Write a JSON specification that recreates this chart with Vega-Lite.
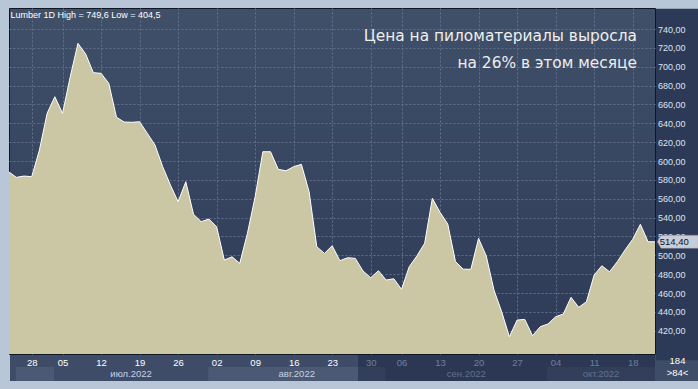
{
  "$schema": "https://vega.github.io/schema/vega-lite/v6.json",
  "width": 646,
  "height": 346,
  "autosize": {"type": "none"},
  "padding": {"left": 9, "top": 8, "right": 43, "bottom": 35},
  "background": "#b9c6d8",
  "title": {
    "text": ["Цена на пиломатериалы выросла", "на 26% в этом месяце"],
    "anchor": "end",
    "frame": "group",
    "orient": "top",
    "offset": -63,
    "dx": -18,
    "baseline": "top",
    "font": "DejaVu Sans",
    "fontSize": 15.4,
    "fontWeight": "normal",
    "color": "#eeeeee",
    "lineHeight": 27
  },
  "config": {
    "font": "Liberation Sans",
    "locale": {"number": {"decimal": ",", "thousands": " ", "grouping": [3], "currency": ["", ""]}},
    "view": {
      "fill": {"gradient": "linear", "x1": 0, "y1": 0, "x2": 0, "y2": 1, "stops": [{"offset": 0, "color": "#405069"}, {"offset": 1, "color": "#2e3a57"}]},
      "stroke": "#0f1624",
      "strokeWidth": 1
    }
  },
  "datasets": {
    "lumber": [
      {"i": -3, "v": 588.7}, {"i": -2, "v": 582.7}, {"i": -1, "v": 584.1}, {"i": 0, "v": 583.4},
      {"i": 1, "v": 611.7}, {"i": 2, "v": 650.6}, {"i": 3, "v": 668.2}, {"i": 4, "v": 650.6},
      {"i": 5, "v": 689.4}, {"i": 6, "v": 724.8}, {"i": 7, "v": 713.5}, {"i": 8, "v": 693.7},
      {"i": 9, "v": 693.0}, {"i": 10, "v": 682.4}, {"i": 11, "v": 646.4}, {"i": 12, "v": 641.4},
      {"i": 13, "v": 641.1}, {"i": 14, "v": 641.7}, {"i": 15, "v": 629.4}, {"i": 16, "v": 617.0},
      {"i": 17, "v": 594.0}, {"i": 18, "v": 574.6}, {"i": 19, "v": 556.9}, {"i": 20, "v": 578.1},
      {"i": 21, "v": 543.5}, {"i": 22, "v": 535.7}, {"i": 23, "v": 538.5}, {"i": 24, "v": 530.3},
      {"i": 25, "v": 495.0}, {"i": 26, "v": 498.5}, {"i": 27, "v": 491.5}, {"i": 28, "v": 523.4},
      {"i": 29, "v": 562.2}, {"i": 30, "v": 609.9}, {"i": 31, "v": 609.9}, {"i": 32, "v": 591.2},
      {"i": 33, "v": 589.7}, {"i": 34, "v": 594.0}, {"i": 35, "v": 596.5}, {"i": 36, "v": 567.5},
      {"i": 37, "v": 509.1}, {"i": 38, "v": 502.1}, {"i": 39, "v": 510.2}, {"i": 40, "v": 494.3},
      {"i": 41, "v": 497.5}, {"i": 42, "v": 496.8}, {"i": 43, "v": 483.4}, {"i": 44, "v": 476.3},
      {"i": 45, "v": 483.7}, {"i": 46, "v": 473.8}, {"i": 47, "v": 475.2}, {"i": 48, "v": 464.0},
      {"i": 49, "v": 488.0}, {"i": 50, "v": 499.5}, {"i": 51, "v": 512.8}, {"i": 52, "v": 560.5},
      {"i": 53, "v": 545.6}, {"i": 54, "v": 533.2}, {"i": 55, "v": 493.5}, {"i": 56, "v": 485.4},
      {"i": 57, "v": 485.2}, {"i": 58, "v": 518.0}, {"i": 59, "v": 499.3}, {"i": 60, "v": 463.2},
      {"i": 61, "v": 440.2}, {"i": 62, "v": 413.7}, {"i": 63, "v": 431.4}, {"i": 64, "v": 432.1},
      {"i": 65, "v": 414.8}, {"i": 66, "v": 424.3}, {"i": 67, "v": 427.2}, {"i": 68, "v": 434.9},
      {"i": 69, "v": 437.8}, {"i": 70, "v": 455.5}, {"i": 71, "v": 444.9}, {"i": 72, "v": 450.8},
      {"i": 73, "v": 479.1}, {"i": 74, "v": 489.0}, {"i": 75, "v": 482.6}, {"i": 76, "v": 493.2},
      {"i": 77, "v": 505.6}, {"i": 78, "v": 517.0}, {"i": 79, "v": 532.9}, {"i": 80, "v": 514.4},
      {"i": 81, "v": 514.4}
    ],
    "months": [
      {"n": 6, "label": "", "start": -2.04, "end": 2.9, "mid": 0.4},
      {"n": 7, "label": "июл.2022", "start": 2.9, "end": 22.9, "mid": 12.9},
      {"n": 8, "label": "авг.2022", "start": 22.9, "end": 45.9, "mid": 34.4},
      {"n": 9, "label": "сен.2022", "start": 45.9, "end": 66.9, "mid": 56.4},
      {"n": 10, "label": "окт.2022", "start": 66.9, "end": 80.9, "mid": 73.9}
    ],
    "dim": [{"from": 42.35, "to": 80.9}]
  },
  "layer": [
    {
      "data": {"name": "lumber"},
      "mark": {"type": "area", "clip": true, "color": "#cbc6a4", "opacity": 1},
      "encoding": {
        "x": {
          "field": "i", "type": "quantitative",
          "scale": {"domain": [-2.95, 80.9], "nice": false, "zero": false},
          "axis": {
            "orient": "bottom",
            "values": [0, 4, 9, 14, 19, 24, 29, 34, 39, 44, 48, 53, 58, 63, 68, 73, 78, 80.9],
            "tickCount": 500,
            "labelExpr": "indexof([0,4,9,14,19,24,29,34,39,44,48,53,58,63,68,73,78], datum.value) < 0 ? '' : ['28','05','12','19','26','02','09','16','23','30','06','13','20','27','04','11','18'][indexof([0,4,9,14,19,24,29,34,39,44,48,53,58,63,68,73,78], datum.value)]",
            "offset": 0.5,
            "domain": false,
            "ticks": true, "tickSize": 26, "tickColor": "#3e4c68",
            "tickWidth": {"condition": {"test": "datum.value > 80", "value": 86}, "value": 45},
            "labelPadding": -18.3, "labelBaseline": "middle", "labelAlign": "center",
            "labelFlush": false, "labelOverlap": false, "labelFontSize": 9.5,
            "labelColor": {"condition": {"test": "datum.value >= 44", "value": "#b2c5de"}, "value": "#ffffff"},
            "grid": true, "gridColor": "#62708c", "gridDash": [2, 2], "gridWidth": 1,
            "gridOpacity": {"condition": {"test": "datum.value > 80", "value": 0}, "value": 1},
            "title": "Lumber 1D High = 749,6 Low = 404,5",
            "titleX": 1, "titleY": -340, "titleAlign": "left", "titleBaseline": "middle",
            "titleFontSize": 9, "titleFontWeight": "normal", "titleColor": "#ffffff", "titleFont": "Liberation Sans"
          }
        },
        "y": {
          "field": "v", "type": "quantitative",
          "scale": {"domain": [395.4, 762.3], "nice": false, "zero": false},
          "axis": {
            "orient": "right",
            "values": [752.2, 740, 720, 700, 680, 660, 640, 620, 600, 580, 560, 540, 520, 500, 480, 460, 440, 420, 400],
            "tickCount": 500,
            "labelExpr": "datum.value >= 420 && datum.value <= 740 ? format(datum.value, '.2f') : ''",
            "offset": 0.5,
            "domain": false,
            "ticks": true, "tickSize": 43, "tickWidth": 19.5, "tickColor": "#2d3a57",
            "labelPadding": -41, "labelAlign": "left", "labelBaseline": "middle",
            "labelFontSize": 9, "labelColor": "#dce4f2", "labelOverlap": false, "labelFlush": false,
            "grid": true, "gridColor": "#62708c", "gridDash": [2, 2], "gridWidth": 1,
            "gridOpacity": {"condition": {"test": "datum.value < 410 || datum.value > 750", "value": 0}, "value": 1},
            "title": ["184", ">84<"],
            "titleX": 21.5, "titleY": 352, "titleAngle": 0, "titleAlign": "center", "titleBaseline": "middle",
            "titleFontSize": 9.5, "titleFontWeight": "normal", "titleColor": "#ffffff", "titleLineHeight": 12
          }
        }
      }
    },
    {
      "data": {"name": "lumber"},
      "mark": {"type": "line", "clip": true, "color": "#ffffff", "strokeWidth": 1},
      "encoding": {
        "x": {"field": "i", "type": "quantitative"},
        "y": {"field": "v", "type": "quantitative"}
      }
    },
    {
      "data": {"name": "months"},
      "transform": [{"filter": "datum.n % 2 == 0"}],
      "mark": {"type": "rect", "fill": "#4b5975"},
      "encoding": {
        "x": {"field": "start", "type": "quantitative"},
        "x2": {"field": "end"},
        "y": {"datum": 381.6, "type": "quantitative"},
        "y2": {"datum": 366.8}
      }
    },
    {
      "data": {"name": "dim"},
      "mark": {"type": "rect", "fill": "#141e38", "opacity": 0.43},
      "encoding": {
        "x": {"field": "from", "type": "quantitative"},
        "x2": {"field": "to"},
        "y": {"datum": 394.3, "type": "quantitative"},
        "y2": {"datum": 366.8}
      }
    },
    {
      "data": {"name": "months"},
      "transform": [{"filter": "datum.label != ''"}],
      "mark": {"type": "text", "fontSize": 9.5, "baseline": "middle", "align": "center"},
      "encoding": {
        "x": {"field": "mid", "type": "quantitative"},
        "y": {"datum": 374.2, "type": "quantitative"},
        "text": {"field": "label"},
        "color": {"condition": {"test": "datum.mid > 42", "value": "#61708b"}, "value": "#c9d1e2"}
      }
    },
    {
      "data": {"name": "lumber"},
      "transform": [{"filter": "datum.i == 81"}],
      "mark": {"type": "point", "shape": "M -1 0 L -0.82 -0.32 L 1 -0.32 L 1 0.32 L -0.82 0.32 Z", "size": 1681, "filled": true, "fill": "#c9cdd8", "stroke": "#7d8799", "strokeWidth": 0.5, "opacity": 1, "xOffset": 22},
      "encoding": {
        "x": {"field": "i", "type": "quantitative"},
        "y": {"field": "v", "type": "quantitative"}
      }
    },
    {
      "data": {"name": "lumber"},
      "transform": [{"filter": "datum.i == 81"}],
      "mark": {"type": "text", "align": "left", "baseline": "middle", "fontSize": 9.5, "color": "#10141e", "xOffset": 4},
      "encoding": {
        "x": {"field": "i", "type": "quantitative"},
        "y": {"field": "v", "type": "quantitative"},
        "text": {"field": "v", "type": "quantitative", "format": ".2f"}
      }
    }
  ]
}
